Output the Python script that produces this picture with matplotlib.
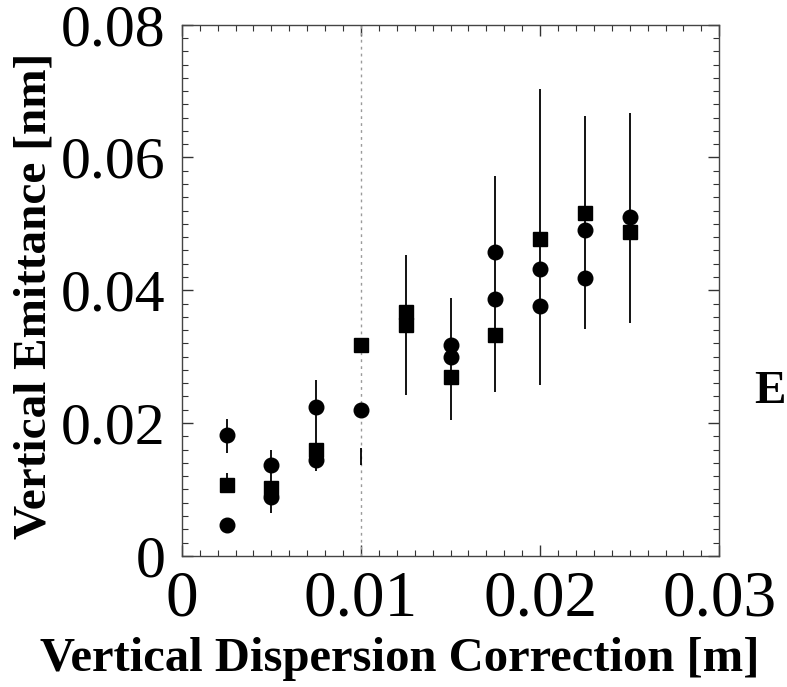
import numpy as np
import matplotlib
matplotlib.use("Agg")
import matplotlib.pyplot as plt
from matplotlib.ticker import MultipleLocator

# ===== DATOS =====
x = [0.0025, 0.005, 0.0075, 0.01, 0.0125, 0.015, 0.0175, 0.02, 0.0225, 0.025]
circ_upper = [0.0182, 0.0137, 0.0224, np.nan, np.nan, 0.0318, 0.0458, 0.0432, 0.0491, 0.0510]
circ_lower = [0.0047, 0.0088, 0.0145, 0.0220, np.nan, 0.0300, 0.0387, 0.0376, 0.0418, np.nan]
squares = [0.0107, 0.0102, 0.0160, 0.0318, 0.0367, 0.0270, 0.0333, 0.0477, 0.0516, 0.0488]
squares_b = [np.nan, np.nan, np.nan, np.nan, 0.0348, np.nan, np.nan, np.nan, np.nan, np.nan]

# error bar spans (solid)
err_x = [0.0025, 0.0025, 0.005, 0.0075, 0.01, 0.0125, 0.015, 0.0175, 0.02, 0.0225, 0.025]
err_lo = [0.0155, 0.0095, 0.0065, 0.0127, 0.0137, 0.0242, 0.0205, 0.0247, 0.0258, 0.0342, 0.0351]
err_hi = [0.0206, 0.0125, 0.0160, 0.0265, 0.0163, 0.0453, 0.0389, 0.0572, 0.0703, 0.0663, 0.0667]

# very large error bar (faint, dotted in the scan)
big_err_x = [0.01]
big_err_lo = [0.0]
big_err_hi = [0.08]

xticks = [0, 0.01, 0.02, 0.03]
xticklabels = ["0", "0.01", "0.02", "0.03"]
yticks = [0, 0.02, 0.04, 0.06, 0.08]
yticklabels = ["0", "0.02", "0.04", "0.06", "0.08"]

# ===== PLOT =====
plt.rcParams["font.family"] = ["Liberation Serif", "DejaVu Serif"]

fig = plt.figure(figsize=(7.87, 6.87), dpi=100)
ax = fig.add_axes([0.231, 0.191, 0.683, 0.773])

ax.vlines(big_err_x, big_err_lo, big_err_hi, colors="#9a9a9a", linewidth=1, linestyles=(0, (2, 3)))
ax.vlines(err_x, err_lo, err_hi, colors="black", linewidth=1.3)

ax.plot(x, circ_upper, "o", color="black", markersize=10.5, linestyle="none")
ax.plot(x, circ_lower, "o", color="black", markersize=10.5, linestyle="none")
ax.plot(x, squares, "s", color="black", markersize=9.5, linestyle="none")
ax.plot(x, squares_b, "s", color="black", markersize=9.5, linestyle="none")

ax.set_xlim(0, 0.03)
ax.set_ylim(0, 0.08)

ax.set_xticks(xticks)
ax.set_xticklabels(xticklabels)
ax.set_yticks(yticks)
ax.set_yticklabels(yticklabels)
ax.xaxis.set_minor_locator(MultipleLocator(0.001))
ax.yaxis.set_minor_locator(MultipleLocator(0.002))

ax.tick_params(which="both", direction="in", top=True, right=True, color="#333333")
ax.tick_params(which="major", length=8, width=1)
ax.tick_params(axis="x", which="major", pad=10, labelsize=47)
ax.tick_params(axis="y", which="major", pad=12, labelsize=43)
ax.tick_params(which="minor", length=4, width=0.8)

for s in ax.spines.values():
    s.set_linewidth(1)
    s.set_color("#444444")

ax.set_xlabel("Vertical Dispersion Correction [m]", fontsize=35, fontweight="bold")
ax.set_ylabel("Vertical Emittance [nm]", fontsize=34, fontweight="bold")
ax.xaxis.set_label_coords(0.406, -0.152)
ax.yaxis.set_label_coords(-0.235, 0.49)

fig.text(0.998, 0.43, "E", fontsize=34, fontweight="bold", ha="right", va="center")

fig.savefig("out.png", dpi=100)
